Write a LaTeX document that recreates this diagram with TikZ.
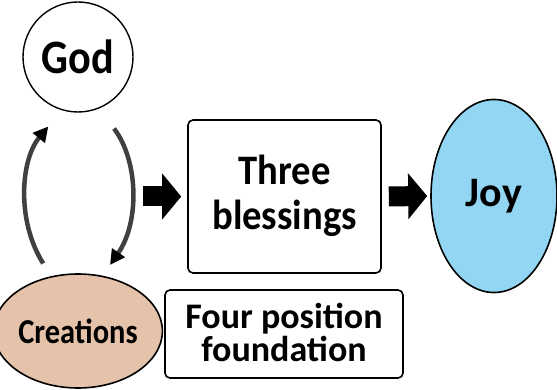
\documentclass[tikz,border=0pt]{standalone}
\usepackage{fontspec}
\setmainfont{Carlito}
\usetikzlibrary{arrows.meta,shapes.geometric}
\definecolor{tan}{RGB}{229,195,170}
\definecolor{sky}{RGB}{146,214,243}
\definecolor{arc}{RGB}{64,64,64}

\begin{document}
\begin{tikzpicture}[x=1pt,y=-1pt,
    box/.style={draw, line width=1.6pt, rounded corners=5pt, align=center,
      inner sep=0pt},
    cyc/.style={draw=arc, line width=4.5pt,
      -{Triangle[length=15pt 0,width=15pt 0,color=black]}},
    blk/.style={line width=20pt, -{Triangle[length=19pt 0,width=45pt 0]}}]
        \useasboundingbox (0,0) rectangle (557,390);
        \node[draw, circle, line width=1.4pt, minimum size=110pt, inner sep=0pt]
          (god) at (78,57)
          {\fontsize{48}{48}\selectfont\bfseries\scalebox{0.88}[1]{God}};
        \node[draw, ellipse, fill=tan, line width=1.6pt, minimum width=140pt,
          minimum height=114pt, inner sep=0pt] (creat) at (78,331)
          {\fontsize{35}{35}\selectfont\bfseries\scalebox{0.87}[1]{Creations}};
        \node[box, minimum width=193pt, minimum height=153pt, text depth=8pt,
          font=\fontsize{42}{45}\selectfont\bfseries] (bless) at (284.5,196.5)
          {\scalebox{0.92}[1]{Three}\\ \scalebox{0.92}[1]{blessings}};
        \node[box, minimum width=238pt, minimum height=88pt, text depth=3pt,
          font=\fontsize{36}{33}\selectfont\bfseries] (four) at (284,334)
          {Four position\\ foundation};
        \node[draw, ellipse, fill=sky, line width=1.6pt, minimum width=126pt,
          minimum height=193pt, inner sep=0pt] (joy) at (494,196)
          {\fontsize{42}{42}\selectfont\bfseries Joy};
        \coordinate (loop) at (143,196.5);
        \draw[cyc, shorten <=15pt, shorten >=21pt]
          (creat.116) to[bend left=36] (god.253);
        \draw[cyc, shorten <=25pt, shorten >=13pt]
          (god.292) to[bend left=36] (creat.66);
        \draw[blk, shorten >=6pt] (loop) -- (bless.west);
        \draw[blk, shorten <=7pt, shorten >=3pt] (bless.east) -- (joy.west);
      \end{tikzpicture}
\end{document}
